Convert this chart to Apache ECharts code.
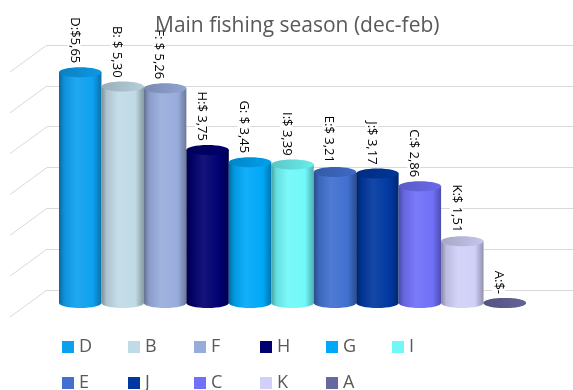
<!doctype html>
<html lang="en">
<head>
    <meta charset="UTF-8">
    <title>Main fishing season</title>
    <style>
        * {
            margin: 0;
            padding: 0;
            box-sizing: border-box;
        }

        body {
            width: 573px;
            height: 390px;
            background: #fff;
        }

        #main {
            width: 573px;
            height: 390px;
        }
    </style>
</head>
<body>
<div id="main"></div>
<script src="https://cdn.jsdelivr.net/npm/echarts@6/dist/echarts.min.js"></script>
<script>
    var names = ['D', 'B', 'F', 'H', 'G', 'I', 'E', 'J', 'C', 'K', 'A'];
    var values = [5.65, 5.30, 5.26, 3.75, 3.45, 3.39, 3.21, 3.17, 2.86, 1.51, 0];
    var labels = ['D:$5,65', 'B: $ 5,30', 'F: $ 5,26', 'H:$ 3,75', 'G: $ 3,45', 'I:$ 3,39',
        'E:$ 3,21', 'J:$ 3,17', 'C:$ 2,86', 'K:$ 1,51', 'A:$-'];
    var colors = ['#0ea0f0', '#c0dae6', '#98acdc', '#000070', '#00a8f8', '#70f8f8',
        '#4070d0', '#0038a0', '#7070f8', '#d0d0f8', '#6868a0'];
    var yTicks = [0, 1, 2, 3, 4, 5, 6];

    // mix a hex colour toward black (amt<0) or white (amt>0)
    function shade(hex, amt) {
        var n = parseInt(hex.slice(1), 16);
        var rgb = [(n >> 16) & 255, (n >> 8) & 255, n & 255];
        var t = amt < 0 ? 0 : 255, p = Math.abs(amt);
        rgb = rgb.map(function (c) {
            return Math.round(c + (t - c) * p);
        });
        return 'rgb(' + rgb.join(',') + ')';
    }

    function sideGrad(c) {
        return {
            type: 'linear', x: 0, y: 0, x2: 1, y2: 0,
            colorStops: [
                {offset: 0, color: shade(c, -0.35)},
                {offset: 0.12, color: shade(c, -0.1)},
                {offset: 0.4, color: shade(c, 0.08)},
                {offset: 0.8, color: c},
                {offset: 1, color: shade(c, -0.3)}
            ]
        };
    }

    function cylinder(idx) {
        var c = colors[idx];
        return function (params, api) {
            var top = api.coord([api.value(0), api.value(1)]);
            var base = api.coord([api.value(0), 0]);
            var w = api.size([1, 0])[0];
            var cx = top[0], x0 = cx - w / 2, ry = 5;
            return {
                type: 'group',
                children: [
                    {
                        type: 'ellipse',
                        shape: {cx: cx, cy: base[1], rx: w / 2, ry: ry},
                        style: {fill: sideGrad(c)}
                    },
                    {
                        type: 'rect',
                        shape: {x: x0, y: top[1], width: w, height: base[1] - top[1]},
                        style: {fill: sideGrad(c)}
                    },
                    {
                        type: 'ellipse',
                        shape: {cx: cx, cy: top[1], rx: w / 2, ry: ry},
                        style: {
                            fill: {
                                type: 'linear', x: 0, y: 0, x2: 1, y2: 0,
                                colorStops: [
                                    {offset: 0, color: shade(c, -0.2)},
                                    {offset: 1, color: shade(c, -0.05)}
                                ]
                            }
                        }
                    },
                    {
                        type: 'text',
                        x: cx - 6,
                        y: top[1] - ry - 3,
                        rotation: -Math.PI / 2,
                        style: {
                            text: labels[idx],
                            fill: '#000',
                            font: '13px "Open Sans"',
                            align: 'right',
                            verticalAlign: 'middle',
                            backgroundColor: '#fff',
                            padding: [0, 1]
                        }
                    }
                ]
            };
        };
    }

    var series = [{
        // side wall lines of the 3d back wall
        type: 'custom',
        xAxisIndex: 0,
        yAxisIndex: 0,
        silent: true,
        data: yTicks.map(function (v) {
            return [0, v];
        }),
        renderItem: function (params, api) {
            var p = api.coord([0, api.value(1)]);
            return {
                type: 'line',
                shape: {x1: p[0], y1: p[1], x2: p[0] - 37, y2: p[1] + 27},
                style: {stroke: '#d9d9d9', lineWidth: 1}
            };
        }
    }];

    names.forEach(function (n, i) {
        series.push({
            name: n,
            type: 'custom',
            xAxisIndex: 1,
            yAxisIndex: 1,
            itemStyle: {color: colors[i]},
            data: [[i, values[i]]],
            renderItem: cylinder(i)
        });
    });

    // one legend per entry so the columns keep an even pitch (6 per row)
    var legends = names.map(function (n, i) {
        return {
            data: [n],
            left: 62 + (i % 6) * 66,
            top: i < 6 ? 338 : 374,
            padding: 0,
            itemWidth: 12,
            itemHeight: 12,
            icon: 'rect',
            textStyle: {
                fontFamily: 'Open Sans',
                fontSize: 18,
                color: '#595959'
            }
        };
    });

    var myChart = echarts.init(document.getElementById('main'));
    var option = {
        animation: false,
        title: {
            text: 'Main fishing season (dec-feb)',
            left: 150,
            top: 11,
            textStyle: {
                fontFamily: 'Open Sans',
                fontSize: 21,
                fontWeight: 'normal',
                color: '#595959'
            }
        },
        legend: legends,
        grid: [
            {left: 47, right: 0, top: 45, bottom: 100},
            {left: 59, right: 47, top: 58, bottom: 87}
        ],
        xAxis: [
            {gridIndex: 0, type: 'value', min: 0, max: 1, show: false},
            {gridIndex: 1, type: 'category', data: names, show: false}
        ],
        yAxis: [
            {
                gridIndex: 0, type: 'value', min: 0, max: 6, interval: 1,
                axisLine: {show: false}, axisTick: {show: false}, axisLabel: {show: false},
                splitLine: {lineStyle: {color: '#d9d9d9', width: 1}}
            },
            {gridIndex: 1, type: 'value', min: 0, max: 6, show: false}
        ],
        series: series
    };
    myChart.setOption(option);
</script>
</body>
</html>
